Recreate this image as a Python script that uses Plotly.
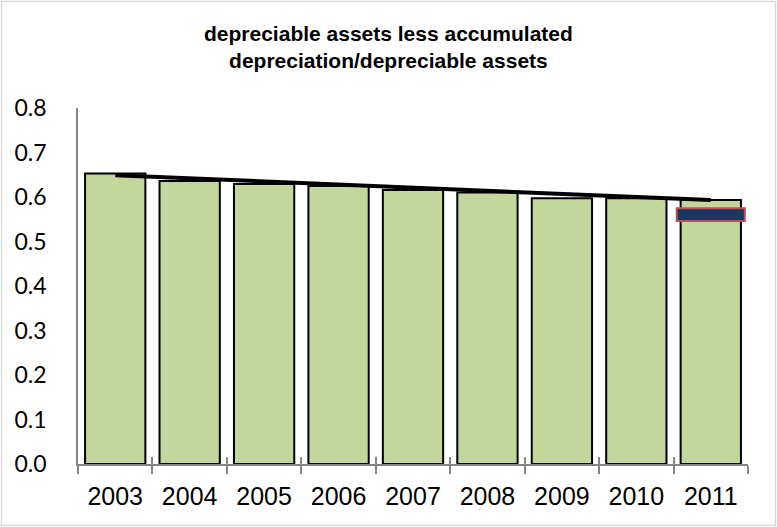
import plotly.graph_objects as go

# Ratio of depreciable assets net of accumulated depreciation to gross depreciable assets
years = ["2003", "2004", "2005", "2006", "2007", "2008", "2009", "2010", "2011"]
ratio = [0.653, 0.636, 0.629, 0.625, 0.616, 0.610, 0.597, 0.597, 0.593]

# Linear trend line end points (first and last year)
trend_years = ["2003", "2011"]
trend_values = [0.649, 0.593]

# Highlight box on the latest year (lower and upper value)
box_year = ["2011"]
box_low = [0.546]
box_high = [0.575]

title_lines = ["depreciable assets less accumulated", "depreciation/depreciable assets"]
y_ticks = [0.0, 0.1, 0.2, 0.3, 0.4, 0.5, 0.6, 0.7, 0.8]

W, H = 777, 527
ML, MR, MT, MB = 78, 29, 108, 63
AXIS_GREY = "#868686"

fig = go.Figure()

fig.add_trace(go.Bar(
    x=years, y=ratio, width=0.81,
    marker=dict(color="#C3D69B", line=dict(color="#000000", width=2)),
    hoverinfo="x+y", showlegend=False,
))

fig.add_trace(go.Scatter(
    x=trend_years, y=trend_values, mode="lines",
    line=dict(color="#000000", width=4),
    hoverinfo="skip", showlegend=False,
))

fig.add_trace(go.Bar(
    x=box_year, base=box_low,
    y=[h - l for h, l in zip(box_high, box_low)], width=0.915,
    marker=dict(color="#17375E", line=dict(color="#C0504D", width=2)),
    hoverinfo="skip", showlegend=False,
))

# Invisible companion trace so the overlay axis (inner half of the ticks) is drawn
fig.add_trace(go.Scatter(
    x=years, y=ratio, xaxis="x2", mode="markers",
    marker=dict(opacity=0), hoverinfo="skip", showlegend=False,
))

# Two-line chart title
pw, ph = W - ML - MR, H - MT - MB
fig.add_annotation(
    text="<b>" + "<br>".join(title_lines) + "</b>", xref="paper", yref="paper",
    x=(W / 2 - ML) / pw, y=1 + (MT - 46.5) / ph,
    xanchor="center", yanchor="middle", align="center", showarrow=False,
    font=dict(family="Liberation Sans, Arial, sans-serif", size=21, color="#000000"),
)

# Chart-area border
fig.add_shape(
    type="rect", xref="paper", yref="paper",
    x0=-(ML - 1.5) / pw, x1=1 + (MR - 1.5) / pw,
    y0=-(MB - 1.5) / ph, y1=1 + (MT - 1.5) / ph,
    line=dict(color="#D9D9D9", width=1.5), fillcolor="rgba(0,0,0,0)", layer="below",
)

fig.update_layout(
    width=W, height=H,
    margin=dict(l=ML, r=MR, t=MT, b=MB, pad=0),
    paper_bgcolor="#FFFFFF", plot_bgcolor="#FFFFFF",
    barmode="overlay",
    xaxis=dict(
        type="category", categoryorder="array", categoryarray=years,
        range=[-0.5, 8.5], showgrid=False, zeroline=False,
        showline=True, linecolor=AXIS_GREY, linewidth=1.5,
        ticks="outside", tickson="boundaries", ticklen=8, tickwidth=1.5, tickcolor=AXIS_GREY,
        tickfont=dict(family="Liberation Sans, Arial, sans-serif", size=25, color="#000000"),
        ticklabelstandoff=9,
    ),
    xaxis2=dict(
        type="category", categoryorder="array", categoryarray=years,
        overlaying="x", side="bottom", range=[-0.5, 8.5],
        showgrid=False, zeroline=False, showline=False,
        ticks="inside", tickson="boundaries", ticklen=7, tickwidth=1.5, tickcolor=AXIS_GREY,
        showticklabels=False,
    ),
    yaxis=dict(
        range=[0, 0.8], tickvals=y_ticks, tickformat=".1f",
        showgrid=False, zeroline=False,
        showline=True, linecolor=AXIS_GREY, linewidth=1.5, ticks="",
        tickfont=dict(family="Lato, Carlito, sans-serif", size=23, color="#000000"),
        ticklabelstandoff=25,
    ),
)

fig.write_html("out.html")
